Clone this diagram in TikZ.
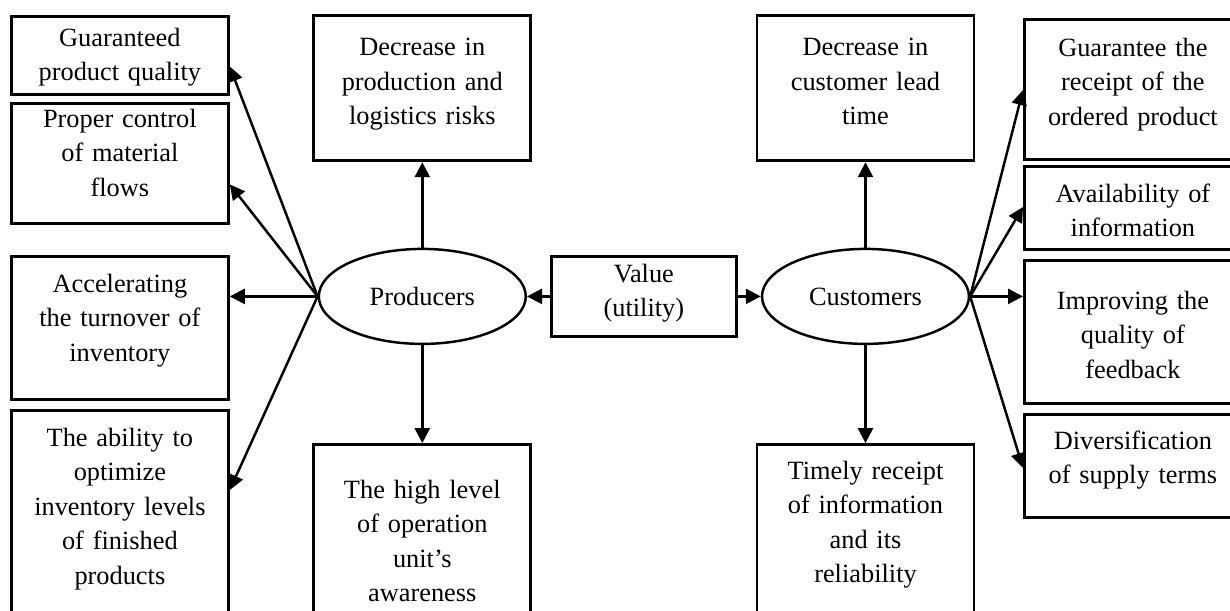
\documentclass[tikz,border=0pt]{standalone}
\usepackage{fontspec}
\setmainfont{Liberation Serif}
\usetikzlibrary{arrows.meta, positioning, shapes.geometric}

\begin{document}
\begin{tikzpicture}[
    x=0.02cm, y=-0.02cm,
    every node/.style={font=\fontsize{15}{19.6}\selectfont},
    box/.style={rectangle, draw, line width=1.6pt, anchor=north west,
                text width=4.14cm, inner xsep=0.1cm, align=center,
                text height=0.4cm},
    party/.style={ellipse, draw, line width=1.4pt, minimum width=4.14cm,
                  minimum height=1.9cm, inner sep=0pt},
    arrow/.style={-{Triangle[length=0.3cm, width=0.3cm]}, line width=1.4pt}
  ]
    \useasboundingbox (0,0) rectangle (1230,610);
    \clip (0,0) rectangle (1230,610);

    % Value and the two parties
    \node[box, text width=3.5cm, inner ysep=0.12cm, text depth=0.96cm] (val) at (550,255)
      {Value\\(utility)};
    \node[party, left=0.46cm of val] (prod) {Producers};
    \node[party, right=0.46cm of val] (cust) {Customers};

    % Above and below the parties
    \node[box, inner ysep=0.4cm, text depth=1.7cm, above=1.71cm of prod] (risk)
      {Decrease in\\production and\\logistics risks};
    \node[box, inner ysep=0.68cm, text depth=2.24cm, below=1.96cm of prod] (aware)
      {The high level\\of operation\\unit's\\awareness};
    \node[box, inner ysep=0.4cm, text depth=1.7cm, above=1.71cm of cust] (lead)
      {Decrease in\\customer lead\\time};
    \node[box, inner ysep=0.3cm, text depth=3cm, below=1.96cm of cust] (timely)
      {Timely receipt\\of information\\and its\\reliability};

    % Producers side
    \node[box, inner ysep=0.2cm, text depth=0.76cm] (qual) at (10,15)
      {Guaranteed\\product quality};
    \node[box, inner ysep=0.08cm, text depth=1.84cm] (flow) at (10,102)
      {Proper control\\of material\\flows};
    \node[box, inner ysep=0.32cm, text depth=1.82cm] (turn) at (10,255)
      {Accelerating\\the turnover of\\inventory};
    \node[box, inner ysep=0.32cm, text depth=3.76cm] (stock) at (10,409)
      {The ability to\\optimize\\inventory levels\\of finished\\products};

    % Customers side
    \node[box, inner ysep=0.34cm, text depth=1.72cm] (order) at (1023,18)
      {Guarantee the\\receipt of the\\ordered product};
    \node[box, inner ysep=0.32cm, text depth=0.62cm] (info) at (1023,165)
      {Availability of\\information};
    \node[box, inner ysep=0.58cm, text depth=1.3cm] (feed) at (1023,259)
      {Improving the\\quality of\\feedback};
    \node[box, inner ysep=0.3cm, text depth=1.06cm] (terms) at (1023,413)
      {Diversification\\of supply terms};

    % Arrows
    \draw[arrow] (val) -- (prod);
    \draw[arrow] (val) -- (cust);
    \draw[arrow] (prod) -- (risk);
    \draw[arrow] (prod) -- (aware);
    \draw[arrow] (cust) -- (lead);
    \draw[arrow] (cust) -- (timely);
    \draw[arrow] (prod.west) -- ([yshift=-0.22cm]qual.east);
    \draw[arrow] (prod.west) -- ([yshift=-0.42cm]flow.east);
    \draw[arrow] (prod.west) -- (prod.west -| turn.east);
    \draw[arrow] (prod.west) -- ([yshift=-1.62cm]stock.north east);
    \draw[arrow] (cust.east) -- ([yshift=-1.44cm]order.north west);
    \draw[arrow] (cust.east) -- ([yshift=-0.84cm]info.north west);
    \draw[arrow] (cust.east) -- (cust.east -| feed.west);
    \draw[arrow] (cust.east) -- ([yshift=-1.1cm]terms.north west);
\end{tikzpicture}
\end{document}
